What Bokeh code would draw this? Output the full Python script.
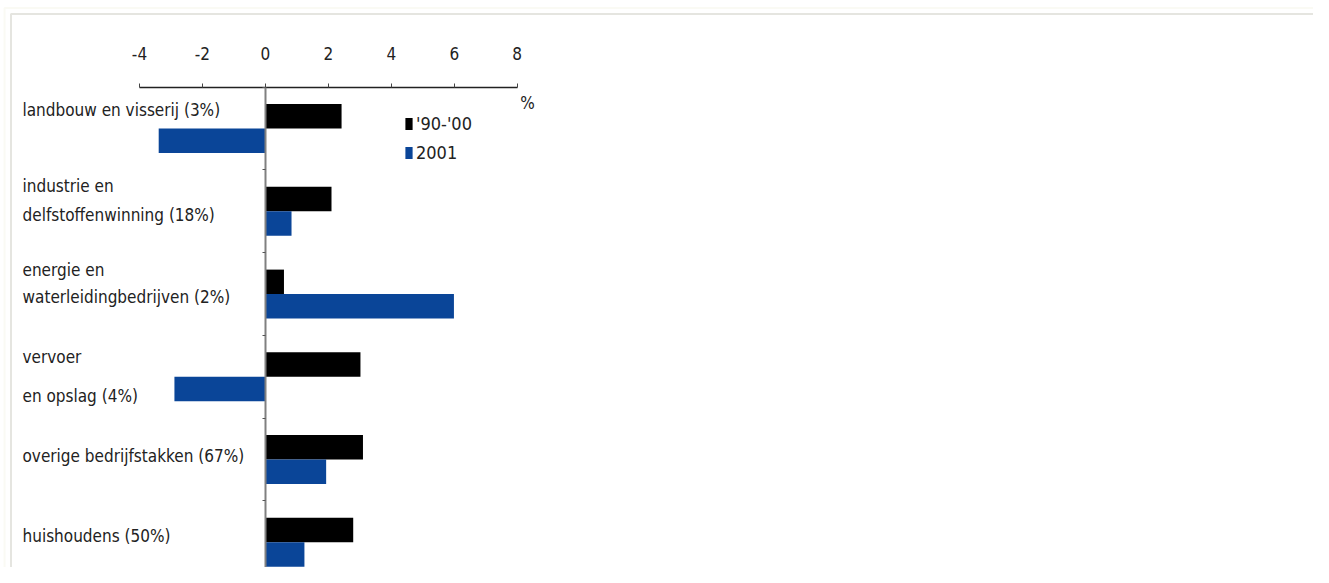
from bokeh.plotting import figure
from bokeh.models import (Range1d, LinearAxis, FixedTicker, BoxAnnotation, Legend,
                          LegendItem, ColumnDataSource, NumeralTickFormatter)
from bokeh.core.properties import value
from bokeh.embed import file_html
from bokeh.resources import INLINE

# ---------------- data ----------------
categories = [
    "landbouw en visserij (3%)",
    "industrie en\ndelfstoffenwinning (18%)",
    "energie en\nwaterleidingbedrijven (2%)",
    "vervoer\nen opslag (4%)",
    "overige bedrijfstakken (67%)",
    "huishoudens (50%)",
]
series_names = ["'90-'00", "2001"]
values_90_00 = [2.42, 2.10, 0.59, 3.02, 3.10, 2.79]
values_2001 = [-3.39, 0.83, 5.99, -2.89, 1.93, 1.24]
x_ticks = [-4, -2, 0, 2, 4, 6, 8]
unit_label = "%"

# ---------------- style / layout ----------------
FONT_NAME = "DejaVu Sans Condensed, Liberation Sans, sans-serif"
FONT = value(FONT_NAME)
W, H = 1313, 567
BLACK = "#000000"
BLUE = "#0a4598"
TEXT = "#222222"
BORDER = "#aaa899"
CREAM = "#efeedc"

# per-label vertical nudges (px): first-line offset from band centre, line gap
label_first_dy = [-19, -25, -24, -20, -4, -6]
label_gap = [0, 29, 27, 39, 0, 0]

n = len(categories)
p = figure(width=W, height=H, output_backend="svg", toolbar_location=None,
           x_axis_location=None, y_axis_location=None, min_border=0,
           x_range=Range1d(-8.416, 33.299), y_range=Range1d(5.804, -1.048))
p.grid.visible = False
p.outline_line_color = None
p.background_fill_color = "white"
p.border_fill_color = "white"

# frame decoration (picture border)
p.add_layout(BoxAnnotation(left=-8.289, top=-0.957, right=1000, bottom=1000,
                           fill_alpha=0, line_color=CREAM, line_width=2))
p.add_layout(BoxAnnotation(left=-8.083, top=-0.885, right=1000, bottom=1000,
                           fill_alpha=0, line_color=BORDER, line_width=2))

centers = [i + 0.5 for i in range(n)]
bar_h = 0.296
src = ColumnDataSource(dict(
    y_a=[c - bar_h / 2 for c in centers],
    y_b=[c + bar_h / 2 for c in centers],
    a=values_90_00,
    b=values_2001,
))
r1 = p.hbar(y="y_a", left=0, right="a", height=bar_h, source=src,
            fill_color=BLACK, line_color=None)
r2 = p.hbar(y="y_b", left=0, right="b", height=bar_h, source=src,
            fill_color=BLUE, line_color=None)

# top value axis
xaxis = LinearAxis(fixed_location=0, ticker=FixedTicker(ticks=x_ticks),
                   bounds=(x_ticks[0], x_ticks[-1]),
                   formatter=NumeralTickFormatter(format="0"))
xaxis.axis_line_color = "#222222"
xaxis.axis_line_width = 1.3
xaxis.major_tick_line_color = "#444444"
xaxis.major_tick_out = 4
xaxis.major_tick_in = 0
xaxis.minor_tick_out = 0
xaxis.minor_tick_in = 0
xaxis.major_label_standoff = 23
xaxis.major_label_text_font = FONT_NAME
xaxis.major_label_text_font_size = "17px"
xaxis.major_label_text_color = TEXT
p.add_layout(xaxis, "above")

# vertical zero line with category separators
yaxis = LinearAxis(fixed_location=0, ticker=FixedTicker(ticks=list(range(n + 1))),
                   bounds=(0, n))
yaxis.axis_line_color = "#808080"
yaxis.axis_line_width = 2
yaxis.major_tick_line_color = "#555555"
yaxis.major_tick_out = 3
yaxis.major_tick_in = 0
yaxis.minor_tick_out = 0
yaxis.minor_tick_in = 0
yaxis.major_label_overrides = {i: "" for i in range(n + 1)}
p.add_layout(yaxis, "left")

# category labels
lt, ly, ld = [], [], []
for i, cat in enumerate(categories):
    for j, line in enumerate(cat.split("\n")):
        lt.append(line)
        ly.append(centers[i])
        ld.append(label_first_dy[i] + j * label_gap[i])
lsrc = ColumnDataSource(dict(x=[-7.717] * len(lt), y=ly, t=lt, dy=ld))
p.text(x="x", y="y", text="t", y_offset="dy", source=lsrc,
       text_font=FONT, text_font_size="17px", text_color=TEXT,
       text_align="left", text_baseline="alphabetic")

# unit label
p.text(x=[x_ticks[-1]], y=[0], text=[unit_label], x_offset=3, y_offset=6,
       text_font=FONT, text_font_size="17px", text_color=TEXT,
       text_align="left", text_baseline="top")

legend = Legend(items=[LegendItem(label=series_names[0], renderers=[r1]),
                       LegendItem(label=series_names[1], renderers=[r2])],
                location=(404, 403), orientation="vertical",
                glyph_width=9, glyph_height=15, label_standoff=3,
                label_height=24, spacing=5, padding=0, margin=0,
                border_line_color=None, background_fill_alpha=0,
                label_text_font=FONT_NAME,
                label_text_font_size="18px", label_text_color=TEXT)
p.add_layout(legend, "center")

open("out.html", "w").write(file_html(p, INLINE))
